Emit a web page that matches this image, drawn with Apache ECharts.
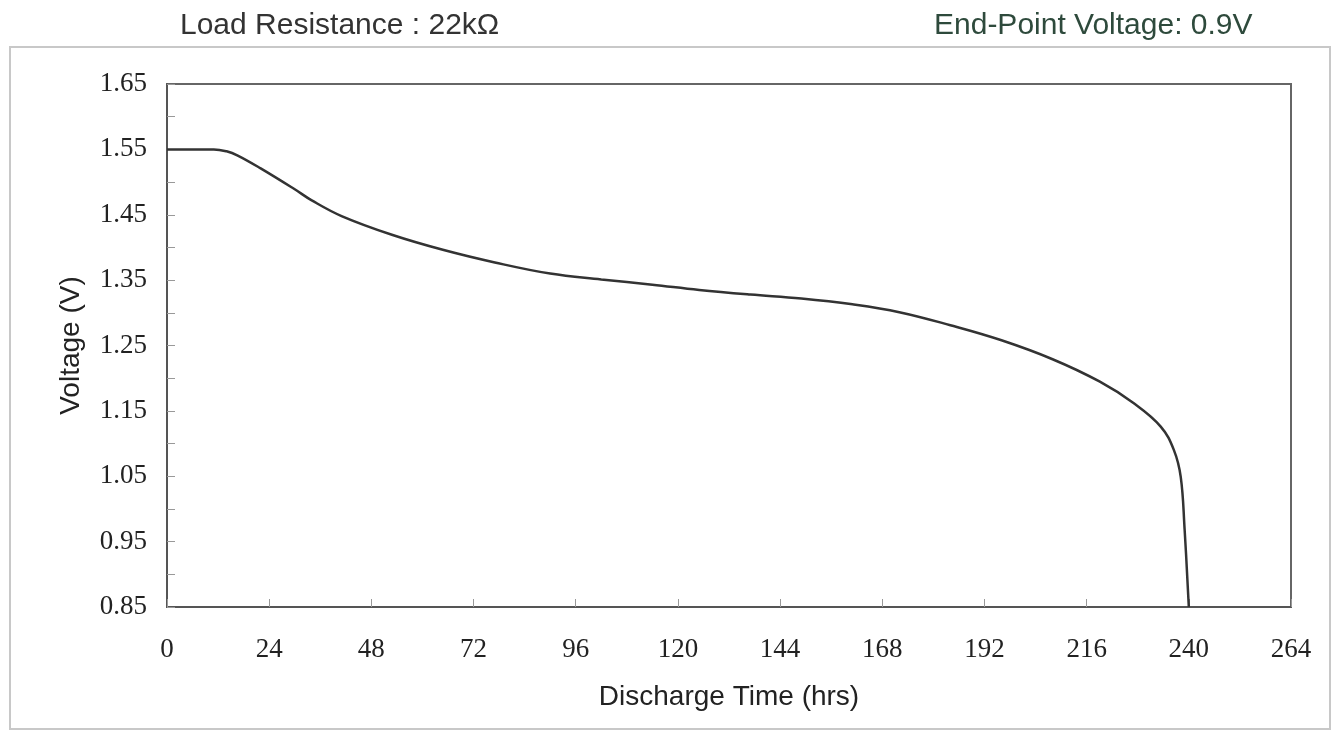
<!DOCTYPE html>
<html>
<head>
<meta charset="utf-8">
<script src="https://cdn.jsdelivr.net/npm/echarts@6/dist/echarts.min.js"></script>
<style>html,body{margin:0;padding:0;background:#fff;}#c{width:1336px;height:731px;}</style>
</head>
<body>
<div id="c"></div>
<script>
var timeHrs = [0, 6, 11, 14, 16.5, 22, 30, 34, 41, 53, 65, 77, 90, 102, 114, 125, 137, 149, 161, 172, 184, 196, 208, 219, 227, 233.4, 236.5, 238.1, 239, 240];
var voltage = [1.55, 1.55, 1.55, 1.547, 1.541, 1.521, 1.489, 1.472, 1.448, 1.419, 1.396, 1.377, 1.360, 1.351, 1.343, 1.335, 1.328, 1.322, 1.313, 1.301, 1.281, 1.258, 1.229, 1.195, 1.162, 1.126, 1.090, 1.049, 0.97, 0.85];
var xTicks = [0, 24, 48, 72, 96, 120, 144, 168, 192, 216, 240, 264];
var yTicks = [0.85, 0.95, 1.05, 1.15, 1.25, 1.35, 1.45, 1.55, 1.65];
var titleLeft = 'Load Resistance : 22k\u03A9';
var titleRight = 'End-Point Voltage: 0.9V';
var xName = 'Discharge Time (hrs)';
var yName = 'Voltage (V)';

var pts = timeHrs.map(function (t, i) { return [t, voltage[i]]; });
var chart = echarts.init(document.getElementById('c'));
chart.setOption({
  animation: false,
  backgroundColor: '#fff',
  graphic: [
    { type: 'rect', shape: { x: 10, y: 47, width: 1320, height: 682 }, style: { fill: 'none', stroke: '#c8c8c8', lineWidth: 2 }, z: -1 }
  ],
  title: [
    { text: titleLeft, left: 175, top: 6, textStyle: { fontFamily: 'Liberation Sans, Arial', fontSize: 30, fontWeight: 'normal', color: '#333' } },
    { text: titleRight, left: 929, top: 6, textStyle: { fontFamily: 'Liberation Sans, Arial', fontSize: 30, fontWeight: 'normal', color: '#2e4a3c' } }
  ],
  grid: { left: 167, right: 45, top: 84, bottom: 124, show: true, borderColor: '#666', borderWidth: 2 },
  xAxis: {
    type: 'value', min: 0, max: 264, interval: 24,
    name: xName, nameLocation: 'middle', nameGap: 76,
    nameTextStyle: { fontFamily: 'Liberation Sans, Arial', fontSize: 28, color: '#222' },
    axisLine: { show: true, lineStyle: { color: '#555', width: 2 } },
    axisTick: { show: true, inside: true, length: 8, lineStyle: { color: '#999', width: 1 } },
    axisLabel: { fontFamily: 'Liberation Serif, Times New Roman', fontSize: 27, color: '#222', margin: 29,
      formatter: function (v) { return xTicks.indexOf(v) >= 0 ? String(v) : ''; } },
    splitLine: { show: false }
  },
  yAxis: {
    type: 'value', min: 0.85, max: 1.65, interval: 0.1,
    name: yName, nameLocation: 'middle', nameGap: 82, nameRotate: 90,
    nameTextStyle: { fontFamily: 'Liberation Sans, Arial', fontSize: 28, color: '#222' },
    axisLine: { show: true, lineStyle: { color: '#555', width: 2 } },
    axisTick: { show: true, inside: true, length: 8, lineStyle: { color: '#999', width: 1 } },
    minorTick: { show: true, splitNumber: 2, length: 8, lineStyle: { color: '#999', width: 1 } },
    axisLabel: { fontFamily: 'Liberation Serif, Times New Roman', fontSize: 27, color: '#222', margin: 20,
      formatter: function (v) { return v.toFixed(2); } },
    splitLine: { show: false }
  },
  series: [{
    type: 'line', data: pts, showSymbol: false, smooth: 0.4,
    lineStyle: { color: '#333', width: 2.5 }, clip: true
  }]
});
</script>
</body>
</html>
